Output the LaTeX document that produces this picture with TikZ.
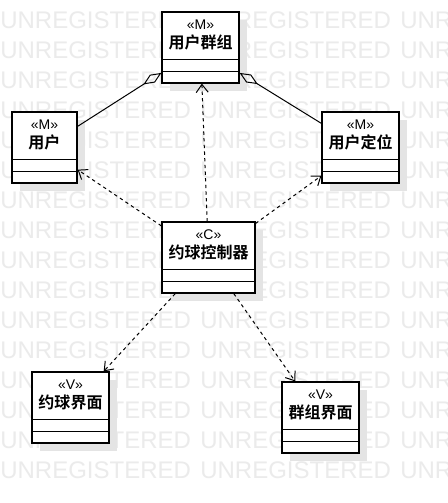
\documentclass[tikz,border=0pt]{standalone}
\usepackage{fontspec}
\setmainfont{Liberation Sans}
\newfontfamily\cjk{Noto Sans CJK SC}[BoldFont={Noto Sans CJK SC Bold}]
\usepackage{tikz}
\usetikzlibrary{arrows.meta,shadows}
\definecolor{wmgray}{HTML}{EBEBEB}
\definecolor{shadowgray}{HTML}{E4E4E4}
\tikzset{
  classbox/.style={draw, line width=0.9pt, fill=white, minimum height=53.25pt, inner sep=0pt,
    drop shadow={shadow xshift=6pt, shadow yshift=-6pt, fill=shadowgray, opacity=1}},
  stereo/.style={font=\fontsize{10.5}{12}\selectfont, inner sep=0pt},
  cname/.style={font=\cjk\bfseries\fontsize{12}{14}\selectfont, inner sep=0pt},
  dep/.style={line width=0.75pt, dash pattern=on 2.5pt off 2.5pt, -{Straight Barb[length=6pt,width=9pt]}},
  aggr/.style={line width=0.75pt, -{Diamond[open,length=16pt,width=7pt]}},
  wmark/.style={wmgray, font=\fontsize{18}{18}\selectfont, inner sep=0pt, anchor=west}
}

\begin{document}
\begin{tikzpicture}[x=0.75pt, y=-0.75pt]
    % Page
    \fill[white] (0,0) rectangle (448,503);
    \useasboundingbox (0,0) rectangle (448,503);

    % Watermark
    \begin{scope}
        \clip (0,0) rectangle (448,503);
        \foreach \r in {0,...,15} {
            \foreach \c in {0,1,2} {
                \node[wmark] (wm-\r-\c) at ({200*\c},{20+30*\r}) {UNREGISTERED};
            }
        }
    \end{scope}

    % Classes
    \node[classbox, minimum width=57.75pt] (group) at (200.5,47.5) {};
    \node[classbox, minimum width=48.75pt] (user) at (44.5,147.5) {};
    \node[classbox, minimum width=57.75pt] (locate) at (360.5,147.5) {};
    \node[classbox, minimum width=69.75pt] (ctrl) at (208.5,257.5) {};
    \node[classbox, minimum width=57.75pt] (matchui) at (70.5,407.5) {};
    \node[classbox, minimum width=57.75pt] (groupui) at (320.5,417.5) {};

    % Compartments and labels
    \foreach \c/\s/\t in {group/M/用户群组, user/M/用户, locate/M/用户定位,
                          ctrl/C/约球控制器, matchui/V/约球界面, groupui/V/群组界面} {
        \draw[line width=0.9pt] ([yshift=-36pt]\c.north west) -- ([yshift=-36pt]\c.north east);
        \draw[line width=0.9pt] ([yshift=-45pt]\c.north west) -- ([yshift=-45pt]\c.north east);
        \node[stereo] (\c-st) at ([yshift=-9.75pt]\c.north) {«\s»};
        \node[cname] (\c-nm) at ([yshift=-23.25pt]\c.north) {\t};
    }

    % Aggregations
    \draw[aggr] (user) -- (group.213.5);
    \draw[aggr] (locate) -- (group.-33.5);

    % Dependencies
    \draw[dep] (ctrl) -- (group);
    \draw[dep] (ctrl) -- (user);
    \draw[dep] (ctrl) -- (locate);
    \draw[dep] (ctrl) -- (matchui);
    \draw[dep] (ctrl) -- (groupui);
\end{tikzpicture}
\end{document}
